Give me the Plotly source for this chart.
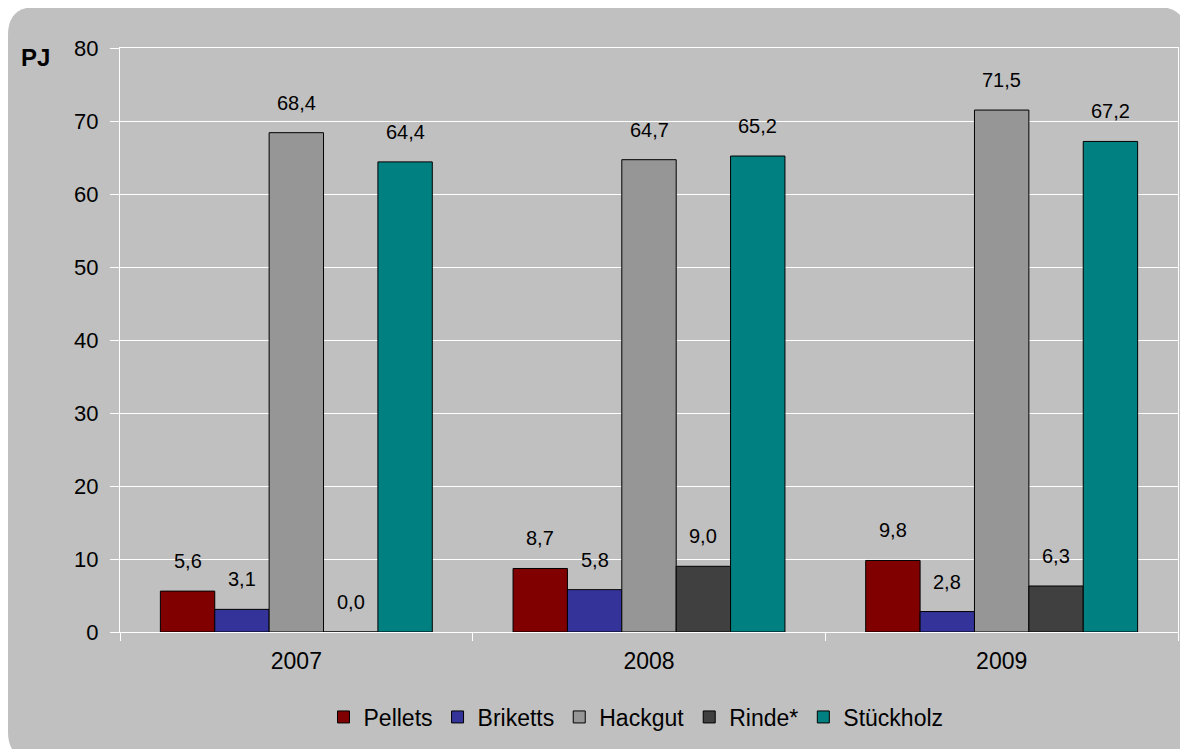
import plotly.graph_objects as go

years = ["2007", "2008", "2009"]
series_names = ["Pellets", "Briketts", "Hackgut", "Rinde*", "Stückholz"]
pellets = [5.6, 8.7, 9.8]
briketts = [3.1, 5.8, 2.8]
hackgut = [68.4, 64.7, 71.5]
rinde = [0.0, 9.0, 6.3]
stueckholz = [64.4, 65.2, 67.2]
y_ticks = [0, 10, 20, 30, 40, 50, 60, 70, 80]
y_unit = "PJ"

series_values = [pellets, briketts, hackgut, rinde, stueckholz]
colors = ["#800000", "#333399", "#969696", "#404040", "#008080"]

OFF = 8  # page body margin
W, H = 1180, 741
ML, MT = 120 - OFF, 48 - OFF
PLOT_R, PLOT_B = 1178 - OFF, 632 - OFF
MR, MB = W - PLOT_R, H - PLOT_B
PW, PH = W - ML - MR, H - MT - MB
BARGAP = 0.229
FONT = "Arial, Liberation Sans, sans-serif"


def px(xp):
    """page pixel x -> paper"""
    return (xp - OFF - ML) / PW


def py(yp):
    """page pixel y -> paper"""
    return (MT + PH - (yp - OFF)) / PH


fig = go.Figure()
for name, vals, col in zip(series_names, series_values, colors):
    fig.add_trace(go.Bar(
        name=name, x=years, y=vals,
        marker=dict(color=col, line=dict(color="black", width=1)),
    ))

# data labels (x given as category index)
n = len(series_names)
cat_w = PW / len(years)
bar_w = cat_w * (1 - BARGAP) / n
for i, vals in enumerate(series_values):
    for j, v in enumerate(vals):
        fig.add_annotation(
            x=j, y=v, xref="x", yref="y",
            text=f"{v:.1f}".replace(".", ","),
            showarrow=False, yanchor="bottom", xanchor="center",
            xshift=(i - (n - 1) / 2) * bar_w, yshift=17,
            font=dict(size=20, color="black", family=FONT),
        )

# unit label
fig.add_annotation(
    x=px(35), y=py(58), xref="paper", yref="paper",
    xanchor="center", yanchor="middle",
    text=f"<b>{y_unit}</b>", showarrow=False,
    font=dict(size=24, color="black", family=FONT),
)

# rounded gray background
x0, x1 = px(8), px(1186)
y1, y0 = py(7), py(760)
rx, ry = 28 / PW, 28 / PH
path = (
    f"M {x0+rx},{y1} L {x1-rx},{y1} Q {x1},{y1} {x1},{y1-ry} "
    f"L {x1},{y0+ry} Q {x1},{y0} {x1-rx},{y0} L {x0+rx},{y0} "
    f"Q {x0},{y0} {x0},{y0+ry} L {x0},{y1-ry} Q {x0},{y1} {x0+rx},{y1} Z"
)
fig.add_shape(type="path", path=path, xref="paper", yref="paper",
              fillcolor="#C0C0C0", line=dict(width=0), layer="below")

fig.update_layout(
    width=W, height=H,
    margin=dict(l=ML, r=MR, t=MT, b=MB, autoexpand=False),
    paper_bgcolor="white",
    plot_bgcolor="rgba(0,0,0,0)",
    barmode="group", bargap=BARGAP, bargroupgap=0,
    font=dict(family=FONT, color="black", size=22),
    showlegend=True,
    legend=dict(
        orientation="h", x=px(636), xanchor="center",
        y=py(717), yanchor="middle",
        font=dict(size=23, family=FONT, color="black"),
        bgcolor="rgba(0,0,0,0)", itemwidth=30,
    ),
    xaxis=dict(
        type="category", range=[-0.5, len(years) - 0.5], autorange=False,
        tickson="boundaries", ticks="outside",
        ticklen=8, tickcolor="white", tickwidth=1,
        showline=True, linecolor="white", linewidth=1, mirror=True,
        showgrid=False, tickfont=dict(size=23, family=FONT),
        ticklabelstandoff=8, tickangle=0,
    ),
    yaxis=dict(
        range=[0, 80], autorange=False, tickvals=y_ticks, ticks="outside",
        ticklen=9, tickcolor="white", tickwidth=1,
        showline=True, linecolor="white", linewidth=1, mirror=True,
        showgrid=True, gridcolor="white", gridwidth=1,
        zeroline=True, zerolinecolor="white", zerolinewidth=1,
        tickfont=dict(size=22, family=FONT), ticklabelstandoff=7,
    ),
)

fig.write_html("out.html")
